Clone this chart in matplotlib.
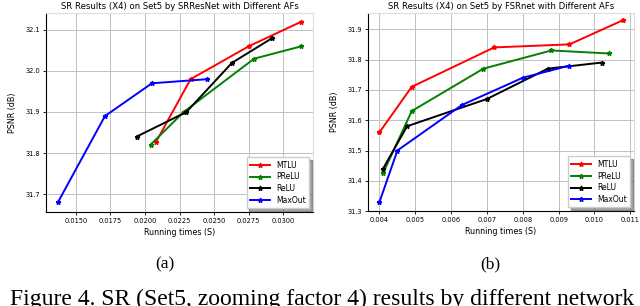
import numpy as np
import matplotlib
matplotlib.use("Agg")
import matplotlib.pyplot as plt

labels = ['MTLU', 'PReLU', 'ReLU', 'MaxOut']
colors = ['red', 'green', 'black', 'blue']

# (a) SRResNet
a_mtlu_x = [0.0208, 0.0233, 0.0275, 0.0313]
a_mtlu_y = [31.827, 31.98, 32.06, 32.12]
a_prelu_x = [0.0204, 0.0228, 0.0279, 0.0313]
a_prelu_y = [31.82, 31.90, 32.03, 32.06]
a_relu_x = [0.0194, 0.0230, 0.0263, 0.0292]
a_relu_y = [31.84, 31.90, 32.02, 32.08]
a_maxout_x = [0.0137, 0.0171, 0.0205, 0.0245]
a_maxout_y = [31.68, 31.89, 31.97, 31.98]

# (b) FSRnet
b_mtlu_x = [0.0040, 0.0049, 0.0072, 0.0093, 0.0108]
b_mtlu_y = [31.56, 31.71, 31.84, 31.85, 31.93]
b_prelu_x = [0.0041, 0.0049, 0.0069, 0.0088, 0.0104]
b_prelu_y = [31.425, 31.63, 31.77, 31.83, 31.82]
b_relu_x = [0.0041, 0.00477, 0.0070, 0.0087, 0.0102]
b_relu_y = [31.44, 31.58, 31.67, 31.77, 31.79]
b_maxout_x = [0.0040, 0.0045, 0.0063, 0.0080, 0.0093]
b_maxout_y = [31.33, 31.50, 31.65, 31.74, 31.78]

a_xticks = [0.0150, 0.0175, 0.0200, 0.0225, 0.0250, 0.0275, 0.0300]
a_yticks = [31.7, 31.8, 31.9, 32.0, 32.1]
b_xticks = [0.004, 0.005, 0.006, 0.007, 0.008, 0.009, 0.010, 0.011]
b_yticks = [31.3, 31.4, 31.5, 31.6, 31.7, 31.8, 31.9]

fig = plt.figure(figsize=(6.4, 3.06), dpi=100)
ax1 = fig.add_axes([0.072, 0.307, 0.417, 0.650])
ax2 = fig.add_axes([0.575, 0.310, 0.416, 0.647])


def style(ax, title, xticks, xfmt, yticks):
    ax.set_title(title, fontsize=6.1, pad=3)
    ax.set_xticks(xticks)
    ax.set_xticklabels([xfmt.format(v) for v in xticks])
    ax.set_yticks(yticks)
    ax.set_yticklabels(['{:.1f}'.format(v) for v in yticks])
    ax.tick_params(labelsize=4.8, length=2, width=0.6, pad=2)
    ax.grid(True, color='#c0c0c0', linewidth=0.7)
    ax.set_axisbelow(True)
    ax.set_xlabel('Running times (S)', fontsize=5.8, labelpad=3)
    ax.set_ylabel('PSNR (dB)', fontsize=5.8, labelpad=6)
    for s in ['top', 'right']:
        ax.spines[s].set_color('#dddddd')
    for s in ['left', 'bottom']:
        ax.spines[s].set_linewidth(0.8)
    ax.legend(loc='lower right', fontsize=5.5, shadow=True, fancybox=False,
              framealpha=1, handlelength=2.6, borderpad=0.45, labelspacing=0.35)


for xs, ys, lab, c in zip([a_mtlu_x, a_prelu_x, a_relu_x, a_maxout_x],
                          [a_mtlu_y, a_prelu_y, a_relu_y, a_maxout_y], labels, colors):
    ax1.plot(xs, ys, color=c, marker='*', markersize=3.5, linewidth=1.4, label=lab)
ax1.set_xlim(0.01284, 0.03216)
ax1.set_ylim(31.656, 32.141)
style(ax1, 'SR Results (X4) on Set5 by SRResNet with Different AFs',
      a_xticks, '{:.4f}', a_yticks)

for xs, ys, lab, c in zip([b_mtlu_x, b_prelu_x, b_relu_x, b_maxout_x],
                          [b_mtlu_y, b_prelu_y, b_relu_y, b_maxout_y], labels, colors):
    ax2.plot(xs, ys, color=c, marker='*', markersize=3.5, linewidth=1.4, label=lab)
ax2.set_xlim(0.00368, 0.01111)
ax2.set_ylim(31.3, 31.953)
style(ax2, 'SR Results (X4) on Set5 by FSRnet with Different AFs',
      b_xticks, '{:.3f}', b_yticks)

fig.text(0.258, 0.137, '(a)', fontsize=12.5, family='Liberation Serif', ha='center', va='center')
fig.text(0.766, 0.137, '(b)', fontsize=12.5, family='Liberation Serif', ha='center', va='center')
fig.text(0.0156, 0.003, 'Figure 4. SR (Set5, zooming factor 4) results by different network',
         fontsize=17, family='Liberation Serif', ha='left', va='baseline')

fig.savefig('out.png', dpi=100)
